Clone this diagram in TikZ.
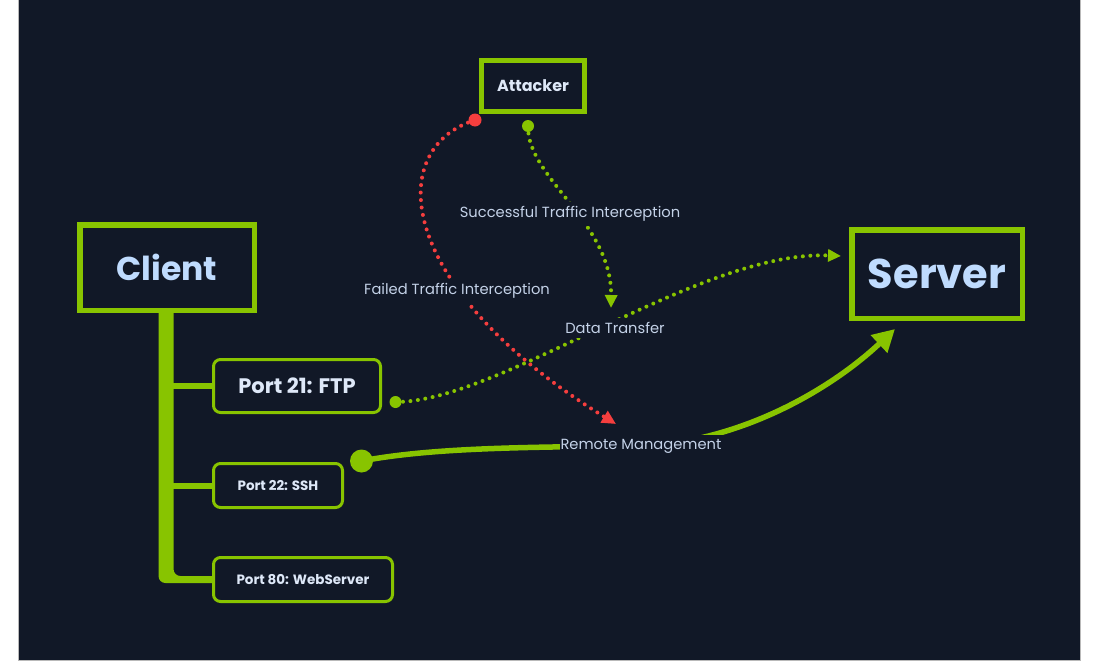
\documentclass[tikz,border=0pt]{standalone}
\usepackage{fontspec}
\setmainfont{Poppins}
\usetikzlibrary{arrows.meta}
\pgfdeclarelayer{back}
\pgfsetlayers{back,main}

\begin{document}
\begin{tikzpicture}[x=1pt, y=-1pt,
	box/.style={draw=limegreen, fill=bgcol, line width=5.5pt, inner sep=0pt, text=titlecol},
	portbox/.style={draw=limegreen, fill=bgcol, line width=3pt, rounded corners=7pt, inner sep=0pt, text=porttext, font=\bfseries\fontsize{13.5}{16}\selectfont},
	lbl/.style={fill=bgcol, inner xsep=1pt, inner ysep=4pt, text=lbltext, font=\fontsize{14.7}{17}\selectfont},
	dots/.style={line width=4pt, line cap=round, dash pattern=on 0pt off 7.5pt}]
	\definecolor{bgcol}{RGB}{17,24,39}
	\definecolor{limegreen}{RGB}{136,196,0}
	\definecolor{alertred}{RGB}{245,62,62}
	\definecolor{titlecol}{RGB}{191,219,254}
	\definecolor{porttext}{RGB}{222,232,248}
	\definecolor{lbltext}{RGB}{196,210,232}
	\useasboundingbox (0,0) rectangle (1096,667);
	
	\node[box, minimum width=174.5pt, minimum height=85.5pt, font=\bfseries\fontsize{33}{40}\selectfont] (client) at (167,267.5) {Client};
	\node[box, minimum width=170.5pt, minimum height=88.5pt, font=\bfseries\fontsize{41.5}{48}\selectfont] (server) at (937,274) {Server};
	\node[box, line width=5pt, minimum width=103pt, minimum height=51pt, text=porttext, font=\bfseries\fontsize{16}{20}\selectfont] (attacker) at (533,86) {Attacker};
	\node[portbox, minimum width=167pt, minimum height=53pt, font=\bfseries\fontsize{21}{24}\selectfont] (port21) at (297,386) {Port 21: FTP};
	\node[portbox, minimum width=129pt, minimum height=44pt] (port22) at (278,485.5) {Port 22: SSH};
	\node[portbox, minimum width=179pt, minimum height=44pt] (port80) at (303,579.5) {Port 80: WebServer};
	
	\begin{pgfonlayer}{back}
		\fill[bgcol] (18,0) rectangle (1080,660);
		\draw[gray!55, line width=0.8pt] (18,0) -- (18,660) -- (1080,660) -- (1080,0);
		\fill[limegreen, rounded corners=7pt] ([xshift=-8.5pt,yshift=10pt]client.south) |- ([xshift=10pt,yshift=-3.5pt]port80.west) -- ([xshift=10pt,yshift=3.5pt]port80.west) -| ([xshift=6.5pt,yshift=10pt]client.south) -- cycle;
		\draw[limegreen, line width=6pt] (client.south |- port21.west) -- ([xshift=5pt]port21.west);
		\draw[limegreen, line width=6pt] (client.south |- port22.west) -- ([xshift=5pt]port22.west);
	\end{pgfonlayer}
	
	\coordinate (failfrom) at (475,120);
	\coordinate (failto) at (616,424);
	\coordinate (okfrom) at (528,126);
	\coordinate (okto) at (611,308);
	\coordinate (dtfrom) at ([xshift=13.5pt,yshift=-16pt]port21.east);
	\coordinate (dtto) at ([xshift=-8pt,yshift=18pt]server.west);
	\coordinate (rmfrom) at ([xshift=17.5pt,yshift=24.5pt]port22.east);
	\coordinate (rmto) at ([xshift=-42pt,yshift=-8pt]server.south);
	\coordinate (rmmid) at (641,446);
	
	\draw[alertred, dots, -{Triangle[length=14pt,width=13pt]}] (failfrom) .. controls (382,150) and (398,290) .. (failto);
	\fill[alertred] (failfrom) circle[radius=6.5pt];
	\draw[limegreen, dots, -{Triangle[length=13pt,width=12pt]}] (okfrom) .. controls (527,178) and (612,222) .. (okto);
	\fill[limegreen] (okfrom) circle[radius=6pt];
	\draw[limegreen, dots, -{Triangle[length=13pt,width=12pt]}] (dtfrom) .. controls (500,402) and (700,250) .. (dtto);
	\fill[limegreen] (dtfrom) circle[radius=6pt];
	\draw[limegreen, line width=5.5pt, -{Triangle[length=22pt,width=23pt]}] (rmfrom) .. controls (430,448) and (520,447) .. (rmmid) .. controls (740,442) and (830,390) .. (rmto);
	\fill[limegreen] (rmfrom) circle[radius=11.5pt];
	
	\node[lbl] (oklbl) at (570,214) {Successful Traffic Interception};
	\node[lbl] (faillbl) at (457,291) {Failed Traffic Interception};
	\node[lbl] (dtlbl) at (615,328) {Data Transfer};
	\node[lbl] (rmlbl) at (rmmid) {Remote Management};
\end{tikzpicture}
\end{document}
